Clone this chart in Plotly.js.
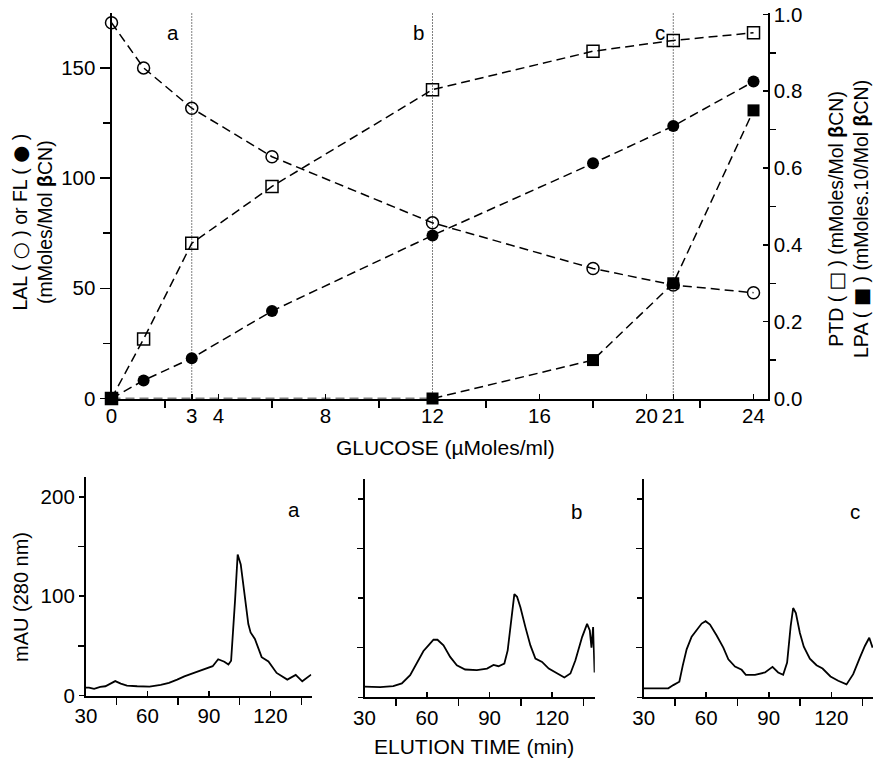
<!DOCTYPE html>
<html><head><meta charset="utf-8">
<script src="https://cdn.plot.ly/plotly-3.0.1.min.js"></script>
<style>html,body{margin:0;padding:0;background:#fff}#chart{width:873px;height:763px}</style>
</head><body><div id="chart"></div>
<script>
// ---------------- data ----------------
const glucoseLAL = [0, 1.2, 3, 6, 12, 18, 21, 24];
const lal        = [170.5, 150, 131.7, 109.7, 79.7, 59, 51.5, 48];
const glucoseFL  = [0, 1.2, 3, 6, 12, 18, 21, 24];
const fl         = [0, 8.2, 18.3, 39.7, 74, 106.7, 123.6, 143.8];
const glucosePTD = [0, 1.2, 3, 6, 12, 18, 21, 24];
const ptd        = [0, 0.155, 0.404, 0.552, 0.804, 0.904, 0.932, 0.952];
const glucoseLPA = [0, 12, 18, 21, 24];
const lpa        = [0, 0, 0.10, 0.30, 0.75];

const sampleGlucose = [3, 12, 21];
const sampleLabels  = ['a', 'b', 'c'];

const glucoseTicks      = [0, 3, 4, 8, 12, 16, 20, 21, 24];
const glucoseMinorTicks = [2, 6, 10, 14, 18, 22];
const leftTicks         = [0, 50, 100, 150];
const leftMinorTicks    = [25, 75, 125];
const rightTicks        = [0, 0.2, 0.4, 0.6, 0.8, 1.0];
const rightMinorTicks   = [0.1, 0.3, 0.5, 0.7, 0.9];

const timeTicks      = [30, 60, 90, 120];
const timeMinorTicks = [45, 75, 105, 135];
const mauTicks       = [0, 100, 200];
const mauMinorTicks  = [50, 150];

const timeA = [30, 31.5, 34, 37, 39.5, 42, 44.3, 47, 50, 55, 61, 66.5, 70.5, 74.5, 78, 82.7, 86, 90, 91.8, 94.5, 97.5, 99.5, 100.8, 102.7, 104, 105.5, 107.6, 109.2, 110.3, 112.4, 115.7, 119, 123, 128.2, 132.3, 135.5, 139.8];
const mauA  = [8, 8, 6.7, 8.7, 9.3, 12, 14.5, 12, 10, 9.3, 9, 10.7, 12.7, 16, 19.3, 22.7, 25.3, 27.7, 29.5, 36.5, 34, 31.3, 35, 95, 142, 132, 95, 72, 63.5, 57, 38.6, 34.3, 22.7, 16, 20.7, 14.3, 21];

const timeB = [30, 37.5, 43.8, 47.9, 51.9, 55.1, 58.3, 60.7, 63.1, 65, 67.9, 71.1, 74.3, 78.3, 83.9, 88.8, 91.9, 94.3, 97.1, 98.7, 100.3, 101.9, 103.2, 104.8, 107.2, 109.6, 112, 115.2, 118.4, 122.4, 125.9, 128.8, 131.2, 134.4, 136.8, 138.1, 138.9, 139.7, 140.4];
const mauB  = [10.7, 10.3, 11.3, 14, 22.3, 34, 46.7, 52.3, 58, 58, 52.3, 40.7, 32.3, 28, 27.3, 29, 32.7, 31.3, 34, 47.3, 77.3, 104, 101.3, 90.7, 70.7, 52.3, 39, 35.7, 29, 24, 20, 24, 37.3, 60.7, 74, 67.3, 50, 70.7, 25];

const timeC = [30, 41.8, 44.2, 47.1, 48.7, 50.6, 53, 55.4, 57.8, 59.7, 61.8, 65, 68.2, 70.6, 73.8, 77, 79, 83.4, 88.2, 91.8, 94.5, 96.9, 98.8, 100.5, 101.7, 103, 104.9, 106.8, 109.7, 112.9, 115.8, 119.6, 123.3, 127.3, 130.5, 133.7, 136.1, 138.2, 139.8];
const mauC  = [9, 9, 12.3, 15.7, 31.7, 48.3, 61, 68.3, 74.3, 76.7, 73.3, 62.3, 50, 38.3, 31, 27.7, 22.7, 22.7, 25, 30.7, 25, 22.7, 35, 71.7, 90, 85, 65, 51, 39, 32.3, 29, 21, 16.7, 13, 23.3, 40, 51.7, 60, 50];

// ---------------- layout helpers ----------------
const W = 873, H = 763;
const FONT = 'Liberation Sans, Arial, Helvetica, sans-serif';
const px = v => v / W;
const py = v => 1 - v / H;
const TICKF = {family: FONT, size: 20.5, color: '#000'};

function baseAxis(extra) {
  return Object.assign({
    showline: true, linecolor: '#000', linewidth: 2,
    showgrid: false, zeroline: false,
    ticks: 'outside', tickcolor: '#000', tickwidth: 1.5,
    tickmode: 'array', tickfont: TICKF, fixedrange: true
  }, extra);
}
function overlayAxis(extra) {
  return Object.assign({
    showline: false, showgrid: false, zeroline: false,
    ticks: 'outside', tickcolor: '#000', tickwidth: 1.5, ticklen: 7,
    tickmode: 'array', showticklabels: false, fixedrange: true
  }, extra);
}
const minorT = (vals, dir, len) => ({tickmode: 'array', tickvals: vals, ticks: dir, ticklen: len, tickwidth: 1.5, tickcolor: '#000'});

const dashed = {color: '#000', width: 1.5, dash: '9px,5px'};
const traces = [
  {x: glucoseLAL, y: lal, xaxis: 'x', yaxis: 'y', mode: 'lines+markers', cliponaxis: false,
   line: dashed, marker: {symbol: 'circle-open', size: 12, color: '#000', line: {width: 1.5, color: '#000'}}},
  {x: glucoseFL, y: fl, xaxis: 'x', yaxis: 'y', mode: 'lines+markers', cliponaxis: false,
   line: dashed, marker: {symbol: 'circle', size: 12, color: '#000'}},
  {x: glucosePTD, y: ptd, xaxis: 'x', yaxis: 'y2', mode: 'lines+markers', cliponaxis: false,
   line: dashed, marker: {symbol: 'square-open', size: 12, color: '#000', line: {width: 1.5, color: '#000'}}},
  {x: glucoseLPA, y: lpa, xaxis: 'x', yaxis: 'y2', mode: 'lines+markers', cliponaxis: false,
   line: dashed, marker: {symbol: 'square', size: 12, color: '#000'}},
  {x: timeA, y: mauA, xaxis: 'x2', yaxis: 'y3', mode: 'lines', line: {color: '#000', width: 1.8}},
  {x: timeB, y: mauB, xaxis: 'x3', yaxis: 'y4', mode: 'lines', line: {color: '#000', width: 1.8}},
  {x: timeC, y: mauC, xaxis: 'x4', yaxis: 'y5', mode: 'lines', line: {color: '#000', width: 1.8}}
];

const topX = [0, 24.53], topY = [0, 175], topY2 = [0, 1.004];
const chromX = [[30, 140], [30, 140.5], [30, 140]];
const chromY = [0, 220];
const chromXDom = [[85.9, 311.5], [364.5, 594.8], [643.7, 873]];
const chromYDom = [[695.5, 477], [697.3, 479], [697.3, 479]];

const layout = {
  width: W, height: H,
  margin: {l: 0, r: 0, t: 0, b: 0, pad: 0},
  paper_bgcolor: '#fff', plot_bgcolor: 'rgba(0,0,0,0)',
  showlegend: false,
  font: {family: FONT, color: '#000'},
  // bottom glucose axis: inner half of crossing ticks here, outer half on overlay
  xaxis: baseAxis({domain: [px(111.5), px(767.7)], range: topX, anchor: 'y',
    tickvals: glucoseTicks, ticktext: glucoseTicks.map(String), ticks: 'inside', ticklen: 5, ticklabelstandoff: -2,
    minor: minorT(glucoseMinorTicks, 'outside', 7)}),
  yaxis: baseAxis({domain: [py(398.5), py(12.8)], range: topY, anchor: 'x',
    tickvals: leftTicks, ticklen: 10,
    minor: minorT(leftMinorTicks, 'outside', 7)}),
  yaxis2: baseAxis({overlaying: 'y', side: 'right', anchor: 'x', range: topY2,
    tickvals: rightTicks, tickformat: '.1f', ticks: 'inside', ticklen: 5, ticklabelstandoff: 0,
    minor: minorT(rightMinorTicks, 'outside', 6)}),
  xaxis5: overlayAxis({overlaying: 'x', anchor: 'y', range: topX, tickvals: glucoseTicks}),
  yaxis6: overlayAxis({overlaying: 'y', side: 'right', anchor: 'x', range: topY2, tickvals: rightTicks, ticklen: 6}),
  shapes: sampleGlucose.map(g => ({type: 'line', xref: 'x', yref: 'y', x0: g, x1: g, y0: 0, y1: topY[1],
    line: {color: '#000', width: 1, dash: '1px,2px'}})),
  annotations: []
};

const xNames = ['xaxis2', 'xaxis3', 'xaxis4'], yNames = ['yaxis3', 'yaxis4', 'yaxis5'];
const xIds = ['x2', 'x3', 'x4'], yIds = ['y3', 'y4', 'y5'];
const xOv = ['xaxis6', 'xaxis7', 'xaxis8'], yOv = ['yaxis7', 'yaxis8', 'yaxis9'];
for (let i = 0; i < 3; i++) {
  layout[xNames[i]] = baseAxis({domain: [px(chromXDom[i][0]), px(chromXDom[i][1])], range: chromX[i], anchor: yIds[i],
    tickvals: timeTicks, ticks: 'inside', ticklen: 5, ticklabelstandoff: 1,
    minor: minorT(timeMinorTicks, 'outside', 7)});
  layout[yNames[i]] = baseAxis({domain: [py(chromYDom[i][0]), py(chromYDom[i][1])], range: chromY, anchor: xIds[i],
    tickvals: mauTicks, ticklen: 5, showticklabels: i === 0,
    minor: minorT(mauMinorTicks, 'outside', 6)});
  layout[xOv[i]] = overlayAxis({overlaying: xIds[i], anchor: yIds[i], range: chromX[i], tickvals: timeTicks});
  layout[yOv[i]] = overlayAxis({overlaying: yIds[i], anchor: xIds[i], range: chromY, tickvals: mauTicks, ticks: 'inside', ticklen: 7});
  layout.annotations.push({xref: xIds[i], yref: yIds[i], x: 131.5, y: 187, text: sampleLabels[i], showarrow: false,
    font: {family: FONT, size: 20.5, color: '#000'}});
}

const letterShift = [-19, -14.5, -13];
sampleGlucose.forEach((g, i) => layout.annotations.push({xref: 'x', yref: 'y', x: g, y: 166, xshift: letterShift[i],
  text: sampleLabels[i], showarrow: false, font: {family: FONT, size: 20.5, color: '#000'}}));

const sym = s => '<span style="font-family:DejaVu Sans">' + s + '</span>';
const T = (text, x, y, angle, size) => ({xref: 'paper', yref: 'paper', x: px(x), y: py(y), text: text, showarrow: false,
  textangle: angle, xanchor: 'center', yanchor: 'middle', font: {family: FONT, size: size, color: '#000'}});
layout.annotations.push(
  T('LAL ( ' + sym('○') + ' ) or FL ( ' + sym('●') + ' )<br>(mMoles/Mol <b>β</b>CN)', 32.5, 222, -90, 19.5),
  T('PTD ( ' + sym('□') + ' ) (mMoles/Mol <b>β</b>CN)<br>LPA ( ' + sym('■') + ' ) (mMoles.10/Mol <b>β</b>CN)', 849, 219, -90, 19.5),
  T('GLUCOSE (µMoles/ml)', 446, 447, 0, 21),
  T('ELUTION TIME (min)', 474, 746.5, 0, 21),
  T('mAU (280 nm)', 21, 597, -90, 20)
);

Plotly.newPlot('chart', traces, layout, {staticPlot: true, displayModeBar: false});
</script></body></html>
